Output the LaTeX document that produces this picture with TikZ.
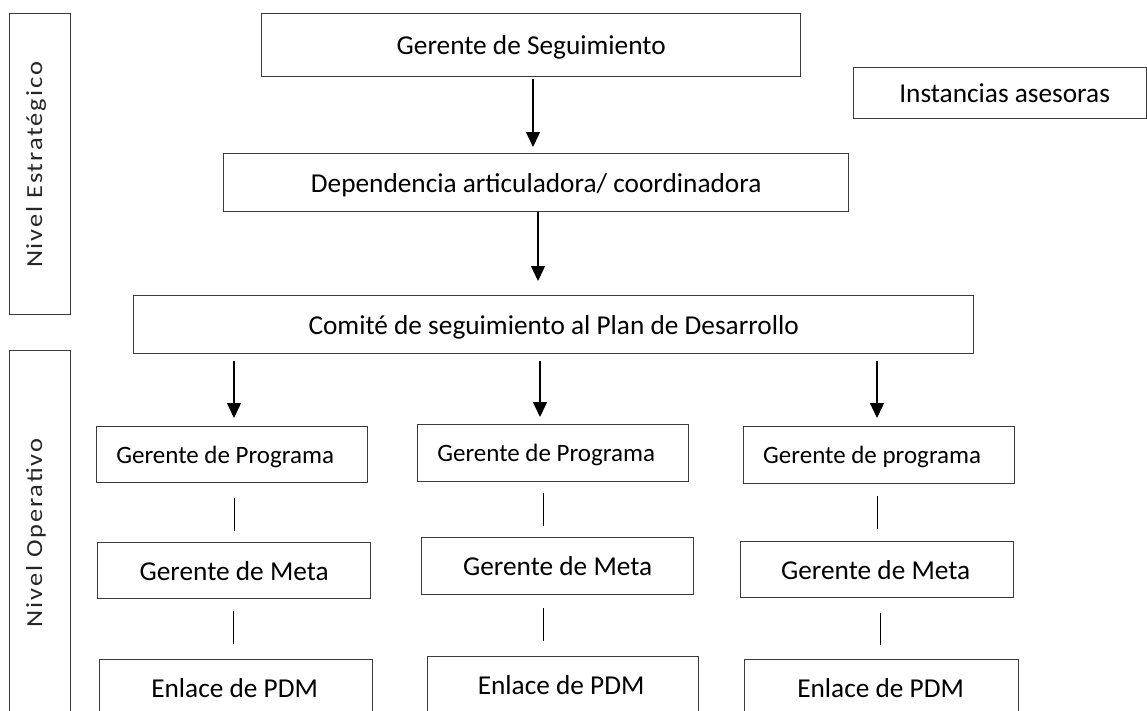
\documentclass[tikz,border=0pt]{standalone}
\usepackage{graphicx}
\usepackage{fontspec}
\setmainfont{Carlito}
\usetikzlibrary{arrows.meta}
\definecolor{boxgray}{HTML}{3A3A3A}
\newcommand\bigtxt{\fontsize{27.3}{32}\selectfont}
\newcommand\midtxt{\fontsize{25}{30}\selectfont}
\newcommand\vtxt{\fontsize{23}{27}\selectfont\addfontfeature{LetterSpace=7}}
\newcommand\vlab[1]{\scalebox{1.15}[1]{\vtxt #1}}
\begin{document}
\begin{tikzpicture}[x=1pt,y=-1pt,
  box/.style={draw=boxgray, line width=1.3pt, inner sep=0pt, anchor=north west,
    font=\bigtxt, text depth=0pt},
  gpbox/.style={box, font=\midtxt},
  vlabel/.style={rotate=90, anchor=base, inner sep=0pt, text=black!85},
  arr/.style={draw=black, line width=1.3pt, -{Triangle[length=15pt,width=14pt]}},
  ln/.style={draw=black, line width=1pt}]
\useasboundingbox (0,0) rectangle (1147,710);
\clip (0,0) rectangle (1147,710);
\fill[white] (0,0) rectangle (1147,710);

% level boxes
\node[box, minimum width=61pt, minimum height=301pt] (vE) at (9,13) {};
\node[box, minimum width=61pt, minimum height=366pt] (vO) at (9,350) {};
\node[vlabel] (tE) at (42,165) {\vlab{Nivel Estratégico}};
\node[vlabel] (tO) at (42,533) {\vlab{Nivel Operativo}};

% top
\node[box, minimum width=539pt, minimum height=63pt] (gs) at (261,13) {Gerente de Seguimiento};
\node[box, minimum width=293pt, minimum height=51pt] (ia) at (853,67) {\hspace*{9pt}Instancias asesoras};
\node[box, minimum width=625pt, minimum height=58pt] (dep) at (223,153) {Dependencia articuladora/ coordinadora};
\node[box, minimum width=840pt, minimum height=58pt] (com) at (133,295) {Comité de seguimiento al Plan de Desarrollo};

% columns
\node[gpbox, minimum width=271pt, minimum height=56pt] (gp1) at (96,426) {\hspace*{-14pt}Gerente de Programa};
\node[box, minimum width=273pt, minimum height=56pt] (gm1) at (97,542) {Gerente de Meta};
\node[box, minimum width=273pt, minimum height=56pt] (en1) at (99,659) {\hspace*{-3pt}Enlace de PDM};

\node[gpbox, minimum width=271pt, minimum height=57pt] (gp2) at (417,424) {\hspace*{-14pt}Gerente de Programa};
\node[box, minimum width=272pt, minimum height=57pt] (gm2) at (421,537) {Gerente de Meta};
\node[box, minimum width=271pt, minimum height=56pt] (en2) at (427,656) {\hspace*{-4pt}Enlace de PDM};

\node[gpbox, minimum width=271pt, minimum height=57pt] (gp3) at (743,426) {\hspace*{-14pt}Gerente de programa};
\node[box, minimum width=273pt, minimum height=56pt] (gm3) at (740,541) {\hspace*{-3pt}Gerente de Meta};
\node[box, minimum width=274pt, minimum height=56pt] (en3) at (744,659) {\hspace*{-2pt}Enlace de PDM};

% connector x positions
\coordinate (xa1) at (533,0);
\coordinate (xa2) at (538,0);
\coordinate (xc1) at (234,0);
\coordinate (xc2) at (540,0);
\coordinate (xc3) at (877,0);
\coordinate (xl1) at (234,0);
\coordinate (xl2) at (233,0);
\coordinate (xm1) at (543,0);
\coordinate (xm2) at (543,0);
\coordinate (xr1) at (877,0);
\coordinate (xr2) at (880,0);

% arrows
\draw[arr, shorten <=2pt, shorten >=6pt] (gs.south -| xa1) -- (dep.north -| xa1);
\draw[arr, shorten <=0pt, shorten >=14pt] (dep.south -| xa2) -- (com.north -| xa2);
\draw[arr, shorten <=7pt, shorten >=8pt] (com.south -| xc1) -- (gp1.north -| xc1);
\draw[arr, shorten <=7pt, shorten >=7pt] (com.south -| xc2) -- (gp2.north -| xc2);
\draw[arr, shorten <=7pt, shorten >=8pt] (com.south -| xc3) -- (gp3.north -| xc3);

% plain lines
\draw[ln, shorten <=15pt, shorten >=11pt] (gp1.south -| xl1) -- (gm1.north -| xl1);
\draw[ln, shorten <=12pt, shorten >=15pt] (gm1.south -| xl2) -- (en1.north -| xl2);
\draw[ln, shorten <=11pt, shorten >=11pt] (gp2.south -| xm1) -- (gm2.north -| xm1);
\draw[ln, shorten <=13pt, shorten >=15pt] (gm2.south -| xm2) -- (en2.north -| xm2);
\draw[ln, shorten <=12pt, shorten >=12pt] (gp3.south -| xr1) -- (gm3.north -| xr1);
\draw[ln, shorten <=15pt, shorten >=14pt] (gm3.south -| xr2) -- (en3.north -| xr2);
\end{tikzpicture}
\end{document}
